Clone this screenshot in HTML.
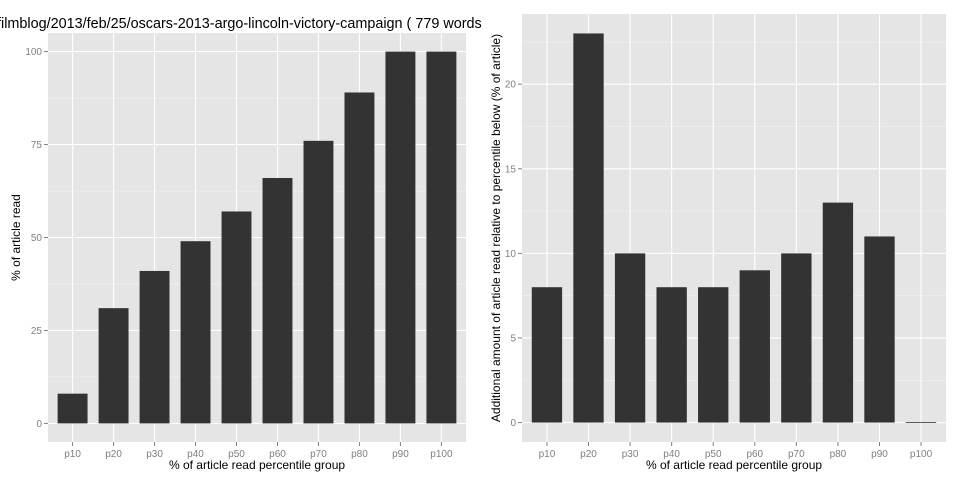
<!DOCTYPE html>
<html><head><meta charset="utf-8"><style>
html,body{margin:0;padding:0;background:#fff;}
svg{display:block;font-family:"Liberation Sans",sans-serif;}
</style></head><body>
<svg id="c" width="960" height="480" viewBox="0 0 960 480"></svg>
<script>
const categories = ["p10","p20","p30","p40","p50","p60","p70","p80","p90","p100"];
const leftValues = [8,31,41,49,57,66,76,89,100,100];
const rightValues = [8,23,10,8,8,9,10,13,11,0];
const leftTicks = [0,25,50,75,100];
const rightTicks = [0,5,10,15,20];
const titleText = "filmblog/2013/feb/25/oscars-2013-argo-lincoln-victory-campaign ( 779 words";

const NS="http://www.w3.org/2000/svg";
const svg=document.getElementById('c');
function mk(tag,attrs,parent){const e=document.createElementNS(NS,tag);for(const k in attrs)e.setAttribute(k,attrs[k]);(parent||svg).appendChild(e);return e;}

function panel(name,x0,x1,y0,y1,vals,ticks,ymin,ymax,ytitle,ytitleX){
  const g=mk('g',{});
  
  
  const bg=mk('rect',{x:x0,y:y0,width:x1-x0,height:y1-y0,fill:'#e5e5e5'},g);
  
  
  const ys=v=>y1-(v-ymin)/(ymax-ymin)*(y1-y0);
  const n=categories.length;
  const step=(x1-x0)/(n-1+1.2);
  const xs=i=>x0+step*(0.6+i);
  for(let i=0;i<ticks.length-1;i++){
    const v=(ticks[i]+ticks[i+1])/2;
    mk('line',{x1:x0,x2:x1,y1:ys(v),y2:ys(v),stroke:'#f2f2f2','stroke-width':0.6},g);
  }
  {const d=ticks[1]-ticks[0];const v=ticks[ticks.length-1]+d/2;if(ys(v)>y0)mk('line',{x1:x0,x2:x1,y1:ys(v),y2:ys(v),stroke:'#f2f2f2','stroke-width':0.6},g);
   const v2=ticks[0]-d/2;if(ys(v2)<y1)mk('line',{x1:x0,x2:x1,y1:ys(v2),y2:ys(v2),stroke:'#f2f2f2','stroke-width':0.6},g);}
  ticks.forEach(t=>{
    mk('line',{x1:x0,x2:x1,y1:ys(t),y2:ys(t),stroke:'#fff','stroke-width':1.1},g);
    mk('line',{x1:x0-4,x2:x0,y1:ys(t),y2:ys(t),stroke:'#7f7f7f','stroke-width':1},g);
    const tl=mk('text',{x:x0-6,y:ys(t)+3.5,'text-anchor':'end','font-size':10,fill:'#7f7f7f'},g);
    tl.textContent=t;
    
    
  });
  categories.forEach((c,i)=>{
    mk('line',{x1:xs(i),x2:xs(i),y1:y0,y2:y1,stroke:'#fff','stroke-width':1.1},g);
    mk('line',{x1:xs(i),x2:xs(i),y1:y1,y2:y1+4,stroke:'#7f7f7f','stroke-width':1},g);
    const tl=mk('text',{x:xs(i),y:y1+15,'text-anchor':'middle','font-size':10,fill:'#7f7f7f'},g);
    tl.textContent=c;
    
    
  });
  const bw=step*0.73;
  vals.forEach((v,i)=>{
    const top=Math.min(ys(v),ys(0)), h=Math.max(Math.abs(ys(0)-ys(v)),0.8);
    const b=mk('rect',{x:xs(i)-bw/2,y:v===0?ys(0)-0.4:top,width:bw,height:h,fill:'#333333'},g);
    
    
  });
  const xt=mk('text',{x:(x0+x1)/2,y:469,'text-anchor':'middle','font-size':12,fill:'#000'},g);
  xt.textContent='% of article read percentile group';
  
  
  const yt=mk('text',{x:0,y:0,'text-anchor':'middle','font-size':12,fill:'#000',transform:`translate(${ytitleX},${(y0+y1)/2}) rotate(-90)`},g);
  yt.textContent=ytitle;
  
  
}
panel('left-panel',48,466,33,442,leftValues,leftTicks,-5,105,'% of article read',20);
panel('right-panel',522,946,14,442,rightValues,rightTicks,-1.15,24.15,'Additional amount of article read relative to percentile below (% of article)',500);
const tt=mk('text',{x:-3,y:28,'font-size':14.4,fill:'#000'});
tt.textContent=titleText;


</script>
</body></html>
